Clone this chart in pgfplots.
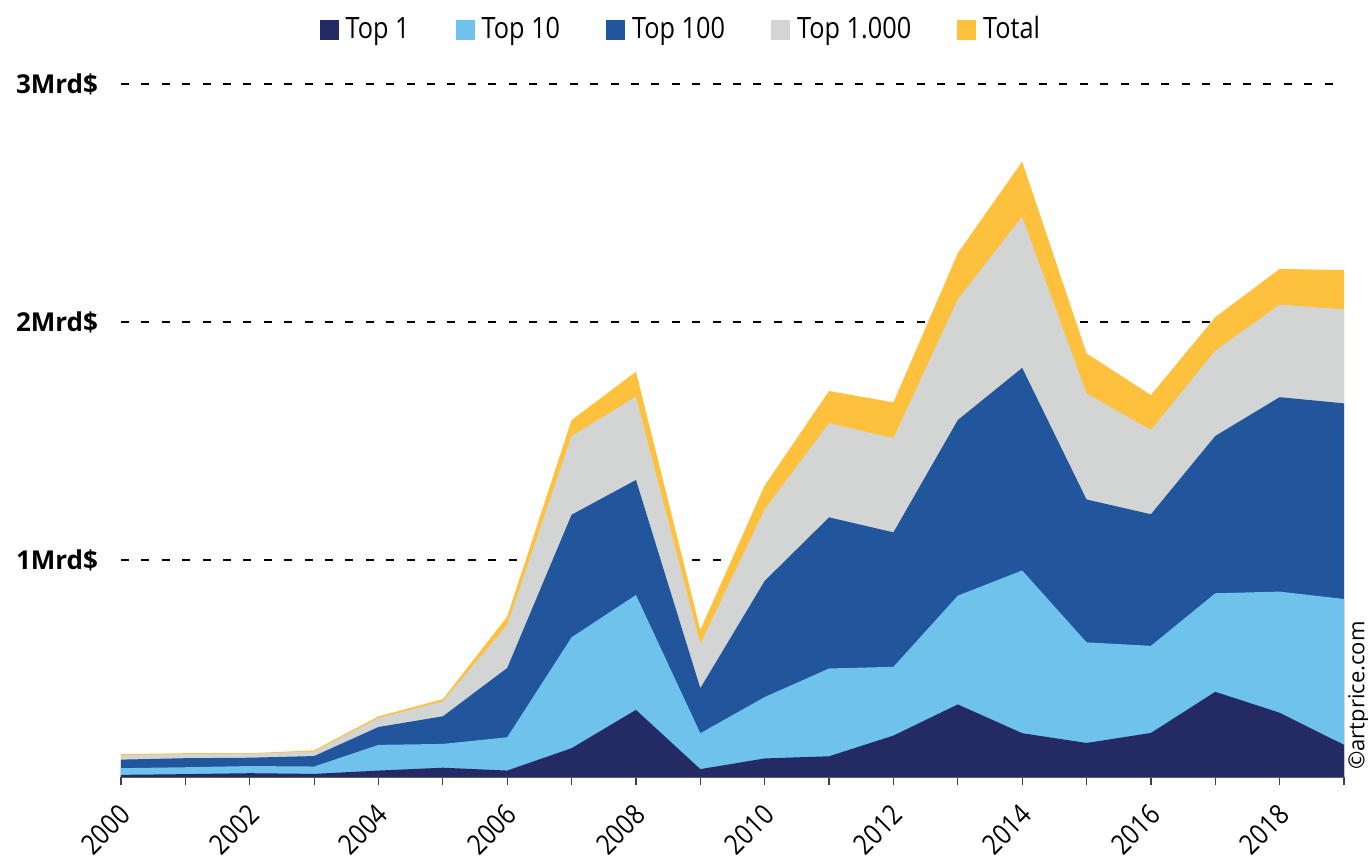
\documentclass[border=0pt]{standalone}
\usepackage{pgfplots}
\pgfplotsset{compat=1.18}
\usepackage{pgfplotstable}
\usepackage{fontspec}
\setmainfont{Open Sans}
\newfontfamily\condfont{Open Sans}[FakeStretch=0.86]
\usetikzlibrary{calc}
\definecolor{cTop1}{HTML}{242A64}
\definecolor{cTop10}{HTML}{6EC2EB}
\definecolor{cTop100}{HTML}{21559C}
\definecolor{cTop1000}{HTML}{D3D5D4}
\definecolor{cTotal}{HTML}{FDC13E}
\pgfplotstableread{
Year Top1 Top10 Top100 Top1000 Total
2000 0.097 0.125 0.161 0.179 0.184
2001 0.100 0.129 0.167 0.185 0.188
2002 0.104 0.134 0.169 0.186 0.188
2003 0.101 0.132 0.176 0.195 0.200
2004 0.115 0.223 0.298 0.336 0.343
2005 0.127 0.227 0.343 0.406 0.415
2006 0.115 0.255 0.546 0.727 0.762
2007 0.209 0.675 1.190 1.521 1.588
2008 0.370 0.853 1.336 1.686 1.791
2009 0.121 0.272 0.461 0.647 0.706
2010 0.166 0.424 0.912 1.213 1.313
2011 0.175 0.544 1.179 1.575 1.710
2012 0.262 0.551 1.116 1.512 1.662
2013 0.393 0.850 1.588 2.095 2.289
2014 0.272 0.956 1.807 2.442 2.674
2015 0.231 0.654 1.254 1.700 1.868
2016 0.273 0.639 1.192 1.546 1.693
2017 0.446 0.860 1.521 1.879 2.020
2018 0.358 0.867 1.684 2.073 2.223
2019 0.223 0.836 1.658 2.053 2.218
}\datatable
\begin{document}
\begin{tikzpicture}
\begin{axis}[
  name=ax,
  at={(0,0)}, anchor=south west,
  scale only axis,
  width=611.5pt, height=346.5pt,
  xmin=2000, xmax=2019,
  ymin=0.088, ymax=3,
  axis x line*=bottom,
  axis y line*=left,
  y axis line style={draw=none},
  x axis line style={draw=black!75, line width=0.8pt},
  xtick={2000,2002,...,2018},
  xticklabels={2000,2002,2004,2006,2008,2010,2012,2014,2016,2018},
  minor xtick={2001,2003,...,2019},
  tick align=outside,
  major tick length=4pt,
  minor tick length=4pt,
  every tick/.style={draw=black!75, line width=0.6pt},
  ytick={1,2,3},
  yticklabels={1Mrd\$,2Mrd\$,3Mrd\$},
  ytick style={draw=none},
  ymajorgrids,
  major grid style={black, line width=0.6pt, dash pattern=on 4pt off 6.2pt},
  xticklabel style={xshift=4.5pt, yshift=-10pt, rotate=45, anchor=east, font=\condfont\fontsize{14}{16}\selectfont},
  yticklabel style={anchor=west, xshift=-52pt, font=\bfseries\fontsize{13}{15}\selectfont},
  /pgf/number format/assume math mode=true,
  clip=true,
  legend columns=5,
  legend style={draw=none, fill=none, at={(0.457,1.0755)}, anchor=center,
    font=\condfont\fontsize{14.7}{17}\selectfont,
    nodes={inner sep=0pt, text height=0.75em, text depth=0.25em},
    /tikz/every odd column/.append style={column sep=3.5pt},
    /tikz/every even column/.append style={column sep=23pt}},
  legend image code/.code={\fill[#1, draw=none] (0pt,-3.4pt) rectangle (9.5pt,6.6pt);},
]
\addplot[fill=cTotal, draw=none, forget plot] table[x=Year, y=Total] {\datatable} \closedcycle;
\addplot[fill=cTop1000, draw=none, forget plot] table[x=Year, y=Top1000] {\datatable} \closedcycle;
\addplot[fill=cTop100, draw=none, forget plot] table[x=Year, y=Top100] {\datatable} \closedcycle;
\addplot[fill=cTop10, draw=none, forget plot] table[x=Year, y=Top10] {\datatable} \closedcycle;
\addplot[fill=cTop1, draw=none, forget plot] table[x=Year, y=Top1] {\datatable} \closedcycle;
\addlegendimage{fill=cTop1, draw=none}
\addlegendentry{Top 1}
\addlegendimage{fill=cTop10, draw=none}
\addlegendentry{Top 10}
\addlegendimage{fill=cTop100, draw=none}
\addlegendentry{Top 100}
\addlegendimage{fill=cTop1000, draw=none}
\addlegendentry{Top 1.000}
\addlegendimage{fill=cTotal, draw=none}
\addlegendentry{Total}
\end{axis}
\node[rotate=90, anchor=west, font=\fontsize{11}{13}\selectfont, inner sep=0pt] at ($(ax.south west)+(619pt,3.5pt)$) {©artprice.com};
\pgfresetboundingbox
\path[use as bounding box] ($(ax.south west)+(-60.5pt,-39.5pt)$) rectangle ($(ax.south west)+(623.5pt,388.5pt)$);
\end{tikzpicture}
\end{document}
